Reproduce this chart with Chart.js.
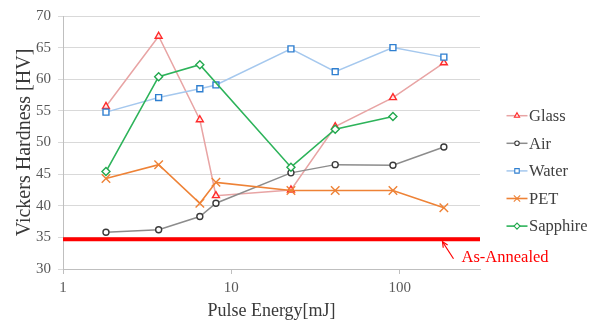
<!DOCTYPE html>
<html><head><meta charset="utf-8">
<script src="https://cdn.jsdelivr.net/npm/chart.js@4/dist/chart.umd.min.js"></script>
<style>html,body{margin:0;padding:0;background:#fff}#wrap{position:relative;width:598px;height:325px}</style>
</head><body><div id="wrap"><canvas id="c" width="598" height="325"></canvas></div>
<script>
// ---- data ----
const energy   = [1.8, 3.7, 6.5, 8.1, 22.6, 41.4, 91.2, 183];
const glass    = [55.7, 66.8, 53.6, 41.6, 42.5, 52.5, 57.1, 62.6];
const air      = [35.8, 36.2, 38.3, 40.4, 45.2, 46.5, 46.4, 49.3];
const water    = [54.8, 57.1, 58.5, 59.1, 64.8, 61.2, 65.0, 63.5];
const pet      = [44.3, 46.5, 40.4, 43.7, 42.4, 42.4, 42.4, 39.7];
const sapphire = [45.4, 60.4, 62.3, null, 46.1, 52.1, 54.1, null];
const asAnnealed = 34.7;
const seriesNames = ['Glass', 'Air', 'Water', 'PET', 'Sapphire'];
const xTickValues = [1, 10, 100];
const xRange = [1, 300];
const yRange = [30, 70];
const yStep = 5;
const annotationText = 'As-Annealed';
const xTitle = 'Pulse Energy[mJ]';
const yTitle = 'Vickers Hardness [HV]';

const SERIF = "'Liberation Serif', 'Times New Roman', serif";
const pts = vals => energy.map((x, i) => ({x: x, y: vals[i]}));

const styles = [
  {line: '#e8a4a4', pt: '#ff2b2b', fill: '#ffe6e6', shape: 'triangle', r: 4.0, lw: 1.5, order: 5},
  {line: '#8c8c8c', pt: '#3a3a3a', fill: '#ffffff', shape: 'circle', r: 3.0, lw: 1.5, order: 4},
  {line: '#a5c8ee', pt: '#2f7fd0', fill: '#ffffff', shape: 'rect', r: 4.2, lw: 1.5, order: 3},
  {line: '#ee8236', pt: '#ee8236', fill: '#ee8236', shape: 'crossRot', r: 6, lw: 1.6, order: 2},
  {line: '#2db35a', pt: '#22a84e', fill: '#ffffff', shape: 'rectRot', r: 4.0, lw: 1.6, order: 1}
];
const seriesValues = [glass, air, water, pet, sapphire];

const datasets = seriesNames.map((name, i) => ({
  label: name,
  data: pts(seriesValues[i]),
  borderColor: styles[i].line,
  borderWidth: styles[i].lw,
  pointStyle: styles[i].shape,
  pointRadius: styles[i].r,
  pointBorderColor: styles[i].pt,
  pointBackgroundColor: styles[i].fill,
  pointBorderWidth: 1.4,
  spanGaps: true,
  tension: 0,
  order: styles[i].order,
  inLegend: true
}));
datasets.push({
  label: annotationText,
  data: [{x: xRange[0], y: asAnnealed}, {x: xRange[1], y: asAnnealed}],
  borderColor: '#ff0000',
  borderWidth: 4,
  pointRadius: 0,
  order: 10,
  inLegend: false
});

const legendAndNote = {
  id: 'legendAndNote',
  afterDraw(chart) {
    const ctx = chart.ctx;
    const ca = chart.chartArea;
    ctx.save();
    // legend
    const lx0 = 506.5, lx1 = 527.5, tx = 529, y0 = 115.7, dy = 27.6;
    ctx.font = '16.5px ' + SERIF;
    ctx.textBaseline = 'middle';
    ctx.textAlign = 'left';
    chart.data.datasets.filter(d => d.inLegend).forEach((d, i) => {
      const y = y0 + i * dy;
      ctx.strokeStyle = d.borderColor;
      ctx.lineWidth = d.borderWidth;
      ctx.beginPath(); ctx.moveTo(lx0, y); ctx.lineTo(lx1, y); ctx.stroke();
      if (Chart.helpers && Chart.helpers.drawPoint) {
        ctx.fillStyle = d.pointBackgroundColor;
        ctx.strokeStyle = d.pointBorderColor;
        ctx.lineWidth = 1.1;
        Chart.helpers.drawPoint(ctx, {pointStyle: d.pointStyle, radius: d.pointRadius * 0.75, rotation: 0, borderWidth: 1.1}, (lx0 + lx1) / 2, y);
      }
      ctx.fillStyle = '#404040';
      ctx.fillText(d.label, tx, y + 1);
    });
    // annotation
    const yr = chart.scales.y.getPixelForValue(asAnnealed);
    const tipX = ca.right - 37.5, tipY = yr + 2.5;
    const tailX = tipX + 11, tailY = tipY + 17;
    ctx.strokeStyle = '#ff0000';
    ctx.lineWidth = 1.2;
    ctx.beginPath(); ctx.moveTo(tailX, tailY); ctx.lineTo(tipX, tipY); ctx.stroke();
    const ang = Math.atan2(tipY - tailY, tipX - tailX);
    const hl = 6;
    ctx.beginPath();
    ctx.moveTo(tipX - hl * Math.cos(ang - 0.45), tipY - hl * Math.sin(ang - 0.45));
    ctx.lineTo(tipX, tipY);
    ctx.lineTo(tipX - hl * Math.cos(ang + 0.45), tipY - hl * Math.sin(ang + 0.45));
    ctx.stroke();
    ctx.fillStyle = '#ff0000';
    ctx.font = '16.5px ' + SERIF;
    ctx.textAlign = 'left';
    ctx.textBaseline = 'middle';
    ctx.fillText(annotationText, tipX + 19, yr + 18);
    ctx.restore();
  }
};

new Chart(document.getElementById('c'), {
  type: 'line',
  data: {datasets: datasets},
  options: {
    responsive: false,
    animation: false,
    devicePixelRatio: 1,
    layout: {padding: {left: 0, right: 118, top: 16, bottom: 0}},
    plugins: {legend: {display: false}, tooltip: {enabled: false}},
    scales: {
      x: {
        type: 'logarithmic',
        min: xRange[0], max: xRange[1],
        afterBuildTicks: s => { s.ticks = xTickValues.map(v => ({value: v})); },
        afterFit: s => { s.height = 56; },
        ticks: {
          callback: v => String(v),
          color: '#595959', font: {family: SERIF, size: 15}, padding: 5,
          maxRotation: 0, autoSkip: false
        },
        grid: {display: true, drawOnChartArea: false, drawTicks: true, tickLength: 5, color: '#bfbfbf'},
        border: {color: '#bfbfbf'},
        title: {display: true, text: xTitle, color: '#3a3a3a', font: {family: SERIF, size: 18}, padding: {top: 0, bottom: 2.5}}
      },
      y: {
        type: 'linear',
        min: yRange[0], max: yRange[1],
        afterFit: s => { s.width = 63; },
        ticks: {stepSize: yStep, color: '#595959', font: {family: SERIF, size: 15}, padding: 7},
        grid: {color: '#d9d9d9', tickLength: 5, drawTicks: true},
        border: {color: '#bfbfbf'},
        title: {display: true, text: yTitle, color: '#3a3a3a', font: {family: SERIF, size: 20}, padding: {top: 13, bottom: 0}}
      }
    }
  },
  plugins: [legendAndNote]
});
</script></body></html>
